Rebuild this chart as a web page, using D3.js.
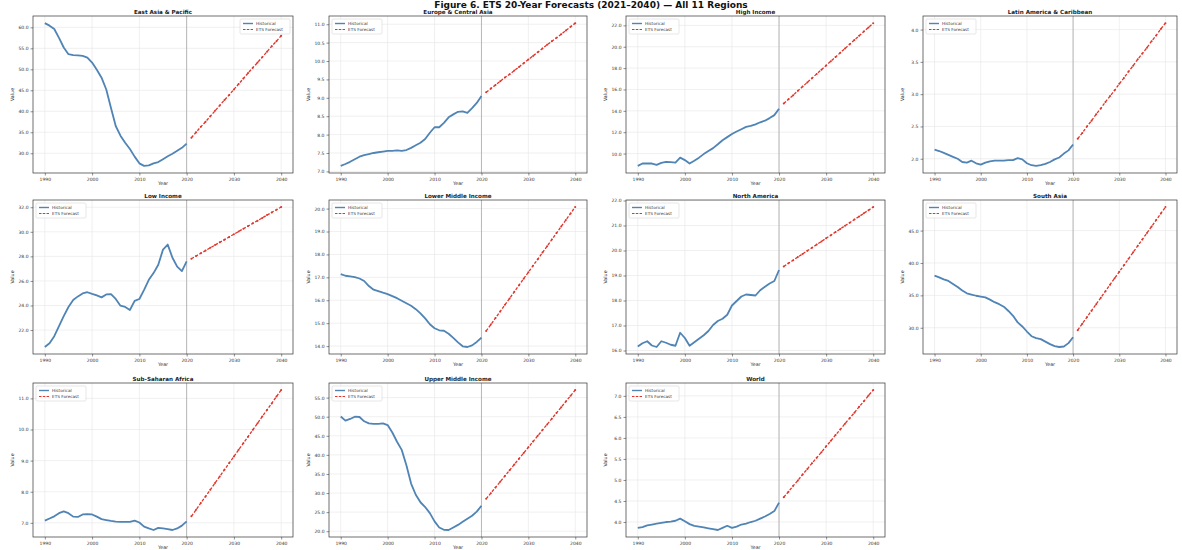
<!DOCTYPE html>
<html><head><meta charset="utf-8">
<script src="https://cdn.jsdelivr.net/npm/d3@7"></script>
<style>body{margin:0;background:#fff}svg{display:block;font-family:"DejaVu Sans",sans-serif}</style>
</head><body><svg id="c" width="1182" height="550"></svg>
<script>
const figTitle = "Figure 6. ETS 20-Year Forecasts (2021\u20132040) \u2014 All 11 Regions";
const histYears = d3.range(1990, 2021);
const fcYears = d3.range(2021, 2041);
const xTicks = [1990, 2000, 2010, 2020, 2030, 2040];
const regions = ["East Asia & Pacific","Europe & Central Asia","High Income","Latin America & Caribbean","Low Income","Lower Middle Income","North America","South Asia","Sub-Saharan Africa","Upper Middle Income","World"];

const histEAP = [61.0,60.4,59.6,57.5,55.2,53.6,53.4,53.3,53.2,52.8,51.6,49.9,48.0,45.2,40.8,36.5,34.2,32.5,31.0,29.2,27.6,27.0,27.1,27.6,27.9,28.6,29.3,29.9,30.6,31.3,32.3];
const fcEAP = [33.7,35.0,36.3,37.5,38.8,40.1,41.4,42.7,43.9,45.2,46.5,47.8,49.1,50.4,51.6,52.9,54.2,55.5,56.7,58.0];
const histECA = [7.15,7.20,7.26,7.33,7.40,7.44,7.47,7.50,7.52,7.54,7.56,7.56,7.57,7.56,7.58,7.64,7.71,7.78,7.88,8.05,8.20,8.20,8.32,8.47,8.55,8.62,8.63,8.59,8.72,8.86,9.05];
const fcECA = [9.15,9.25,9.35,9.45,9.55,9.64,9.74,9.84,9.94,10.04,10.14,10.24,10.34,10.44,10.54,10.63,10.73,10.83,10.93,11.03];
const histHI = [8.85,9.07,9.09,9.07,8.94,9.13,9.23,9.20,9.16,9.62,9.39,9.07,9.33,9.62,9.95,10.24,10.51,10.87,11.25,11.54,11.83,12.07,12.28,12.50,12.60,12.74,12.93,13.08,13.32,13.60,14.20];
const fcHI = [14.68,15.08,15.47,15.87,16.27,16.66,17.06,17.46,17.85,18.25,18.64,19.04,19.44,19.83,20.23,20.63,21.02,21.42,21.81,22.21];
const histLAC = [2.14,2.12,2.09,2.06,2.03,2.00,1.95,1.94,1.97,1.93,1.91,1.94,1.96,1.97,1.97,1.97,1.98,1.98,2.01,1.99,1.93,1.90,1.89,1.90,1.92,1.95,1.99,2.02,2.08,2.13,2.22];
const fcLAC = [2.31,2.40,2.50,2.59,2.69,2.78,2.88,2.97,3.06,3.16,3.25,3.35,3.44,3.54,3.63,3.72,3.82,3.91,4.01,4.10];
const histLI = [20.62,20.93,21.50,22.32,23.14,23.88,24.45,24.74,24.98,25.08,24.94,24.82,24.66,24.90,24.92,24.53,23.98,23.88,23.63,24.37,24.53,25.27,26.09,26.64,27.32,28.55,28.96,27.89,27.16,26.80,27.59];
const fcLI = [27.81,28.03,28.25,28.47,28.70,28.92,29.14,29.36,29.58,29.80,30.03,30.25,30.47,30.69,30.91,31.13,31.36,31.58,31.80,32.02];
const histLMI = [17.14,17.07,17.04,17.01,16.95,16.84,16.62,16.46,16.40,16.33,16.27,16.18,16.09,15.98,15.87,15.76,15.61,15.43,15.21,14.95,14.78,14.69,14.67,14.54,14.36,14.16,13.99,13.96,14.03,14.18,14.37];
const fcLMI = [14.66,14.94,15.23,15.51,15.80,16.08,16.37,16.65,16.94,17.22,17.51,17.79,18.08,18.36,18.65,18.93,19.22,19.50,19.79,20.07];
const histNA = [16.16,16.29,16.37,16.20,16.14,16.37,16.31,16.23,16.19,16.71,16.50,16.19,16.33,16.47,16.61,16.78,17.02,17.18,17.27,17.43,17.80,17.98,18.16,18.24,18.22,18.20,18.41,18.55,18.68,18.78,19.22];
const fcNA = [19.36,19.49,19.61,19.74,19.86,19.99,20.11,20.24,20.36,20.49,20.61,20.74,20.86,20.99,21.11,21.24,21.36,21.49,21.61,21.74];
const histSA = [38.06,37.78,37.47,37.23,36.77,36.30,35.75,35.31,35.13,34.94,34.81,34.69,34.34,33.95,33.64,33.25,32.59,31.84,30.83,30.20,29.42,28.69,28.41,28.25,27.86,27.47,27.16,27.03,27.11,27.63,28.53];
const fcSA = [29.63,30.63,31.63,32.63,33.63,34.63,35.63,36.64,37.64,38.64,39.64,40.64,41.64,42.64,43.64,44.64,45.64,46.64,47.64,48.64];
const histSSA = [7.07,7.14,7.21,7.31,7.37,7.31,7.20,7.19,7.27,7.28,7.27,7.20,7.12,7.09,7.06,7.04,7.03,7.03,7.03,7.07,7.01,6.88,6.82,6.77,6.84,6.82,6.80,6.77,6.82,6.91,7.05];
const fcSSA = [7.21,7.42,7.64,7.85,8.06,8.28,8.49,8.71,8.92,9.13,9.35,9.56,9.77,9.99,10.20,10.42,10.63,10.84,11.06,11.27];
const histUMI = [50.05,48.98,49.41,50.00,49.92,48.80,48.26,48.13,48.13,48.26,47.81,45.86,43.45,41.31,37.30,32.49,29.55,27.59,26.34,24.73,22.59,20.99,20.37,20.32,20.99,21.66,22.46,23.26,24.06,25.13,26.68];
const fcUMI = [28.48,29.98,31.48,32.98,34.48,35.98,37.49,38.99,40.49,41.99,43.49,44.99,46.49,47.99,49.49,50.99,52.50,54.00,55.50,57.00];
const histWLD = [3.86,3.88,3.92,3.94,3.96,3.98,4.00,4.01,4.03,4.08,4.02,3.95,3.91,3.89,3.87,3.85,3.83,3.81,3.86,3.91,3.86,3.89,3.94,3.96,4.00,4.03,4.08,4.13,4.19,4.26,4.46];
const fcWLD = [4.59,4.72,4.86,4.99,5.13,5.26,5.40,5.53,5.66,5.80,5.93,6.07,6.20,6.34,6.47,6.60,6.74,6.87,7.01,7.14];

const yTicksEAP = [30,35,40,45,50,55,60];
const yTicksECA = [7.0,7.5,8.0,8.5,9.0,9.5,10.0,10.5,11.0];
const yTicksHI = [10,12,14,16,18,20,22];
const yTicksLAC = [2.0,2.5,3.0,3.5,4.0];
const yTicksLI = [20,22,24,26,28,30,32];
const yTicksLMI = [14,15,16,17,18,19,20];
const yTicksNA = [16,17,18,19,20,21,22];
const yTicksSA = [30,35,40,45];
const yTicksSSA = [7,8,9,10,11];
const yTicksUMI = [20,25,30,35,40,45,50,55];
const yTicksWLD = [4.0,4.5,5.0,5.5,6.0,6.5,7.0];

const histAll = [histEAP,histECA,histHI,histLAC,histLI,histLMI,histNA,histSA,histSSA,histUMI,histWLD];
const fcAll = [fcEAP,fcECA,fcHI,fcLAC,fcLI,fcLMI,fcNA,fcSA,fcSSA,fcUMI,fcWLD];
const yTicksAll = [yTicksEAP,yTicksECA,yTicksHI,yTicksLAC,yTicksLI,yTicksLMI,yTicksNA,yTicksSA,yTicksSSA,yTicksUMI,yTicksWLD];
const legendLabels = ["Historical","ETS Forecast"];

const colLeft = [33, 329, 626, 923], colW = [260, 258, 259, 254];
const rowTop = [16, 200, 383], rowH = [157, 154, 154];

const svg = d3.select("#c");
svg.append("text").attr("x", 591).attr("y", 7.5).attr("text-anchor","middle")
  .attr("font-size", 9).attr("font-weight","bold").attr("fill","#111").text(figTitle);

const histColor = "#4f84b5", fcColor = "#e0352b";
const fmt = v => d3.format(".1f")(v);

regions.forEach((name, i) => {
  const r = Math.floor(i/4), c = i%4;
  const L = colLeft[c], T = rowTop[r], W = colW[c], H = rowH[r];
  const g = svg.append("g").attr("transform", `translate(${L},${T})`);
  const hist = histAll[i], fc = fcAll[i];
  const all = hist.concat(fc);
  const ymin = d3.min(all), ymax = d3.max(all), pad = (ymax-ymin)*0.05;
  const x = d3.scaleLinear().domain([1987.5, 2042.5]).range([0, W]);
  const y = d3.scaleLinear().domain([ymin-pad, ymax+pad]).range([H, 0]);
  const yt = yTicksAll[i].filter(v => v >= ymin-pad && v <= ymax+pad);

  g.append("g").selectAll("line").data(xTicks).join("line")
    .attr("x1", d=>x(d)).attr("x2", d=>x(d)).attr("y1",0).attr("y2",H)
    .attr("stroke","#e6e6e6").attr("stroke-width",0.6);
  g.append("g").selectAll("line").data(yt).join("line")
    .attr("y1", d=>y(d)).attr("y2", d=>y(d)).attr("x1",0).attr("x2",W)
    .attr("stroke","#e6e6e6").attr("stroke-width",0.6);

  const xa = g.append("g").attr("transform",`translate(0,${H})`)
    .call(d3.axisBottom(x).tickValues(xTicks).tickFormat(d3.format("d")).tickSize(2.5).tickPadding(2));
  const ya = g.append("g")
    .call(d3.axisLeft(y).tickValues(yt).tickFormat(fmt).tickSize(2.5).tickPadding(2));
  [xa, ya].forEach(a => {
    a.select(".domain").remove();
    a.selectAll("text").attr("font-size",4.5).attr("fill","#333").attr("font-family","DejaVu Sans");
    a.selectAll("line").attr("stroke","#444").attr("stroke-width",0.6);
  });

  g.append("line").attr("x1",x(2020)).attr("x2",x(2020)).attr("y1",0).attr("y2",H)
    .attr("stroke","#a8a8a8").attr("stroke-width",0.8);

  const lh = d3.line().x((d,k)=>x(histYears[k])).y(d=>y(d));
  const lf = d3.line().x((d,k)=>x(fcYears[k])).y(d=>y(d));
  g.append("path").attr("d", lh(hist)).attr("fill","none").attr("stroke",histColor)
    .attr("stroke-width",1.8).attr("stroke-linejoin","round");
  g.append("path").attr("d", lf(fc)).attr("fill","none").attr("stroke",fcColor)
    .attr("stroke-width",1.3).attr("stroke-dasharray","3,1.6");
  g.append("g").selectAll("circle").data(fc).join("circle")
    .attr("cx",(d,k)=>x(fcYears[k])).attr("cy",d=>y(d)).attr("r",1).attr("fill",fcColor);

  g.append("rect").attr("width",W).attr("height",H).attr("fill","none")
    .attr("stroke","#333").attr("stroke-width",0.7);

  g.append("text").attr("x",W/2).attr("y",-2).attr("text-anchor","middle")
    .attr("font-size",5.6).attr("font-weight","bold").attr("fill","#222").text(name);
  g.append("text").attr("x",W/2).attr("y",H+12).attr("text-anchor","middle")
    .attr("font-size",4.8).attr("fill","#333").text("Year");
  g.append("text").attr("transform",`translate(-19,${H/2}) rotate(-90)`).attr("text-anchor","middle")
    .attr("font-size",4.8).attr("fill","#333").text("Value");

  const lw = 50, lhgt = 15;
  const lx = i===0 ? W-lw-3 : 3, ly = 3;
  const lg = g.append("g").attr("transform",`translate(${lx},${ly})`);
  lg.append("rect").attr("width",lw).attr("height",lhgt).attr("rx",1.5)
    .attr("fill","#fff").attr("fill-opacity",0.85).attr("stroke","#ccc").attr("stroke-width",0.5);
  legendLabels.forEach((t, k) => {
    const yy = 4.5 + k*6;
    lg.append("line").attr("x1",3).attr("x2",13).attr("y1",yy).attr("y2",yy)
      .attr("stroke", k===0 ? histColor : fcColor).attr("stroke-width", k===0?1.4:1.1)
      .attr("stroke-dasharray", k===0 ? null : "2.5,1.3");
    lg.append("text").attr("x",16).attr("y",yy+1.5).attr("font-size",4.2).attr("fill","#333").text(t);
  });
});
</script></body></html>
